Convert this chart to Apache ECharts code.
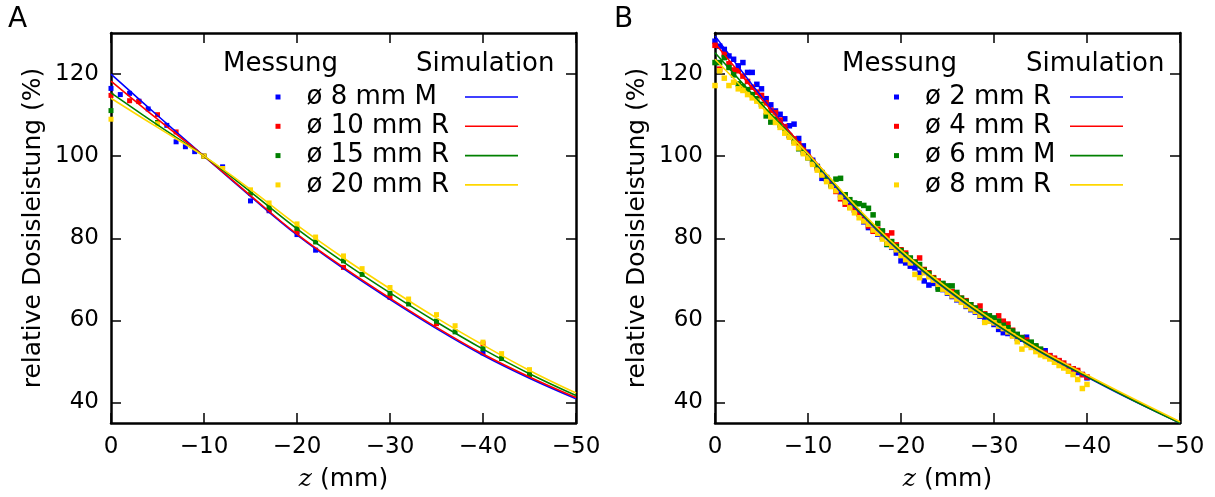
<!DOCTYPE html>
<html><head><meta charset="utf-8">
<script src="https://cdn.jsdelivr.net/npm/echarts@6/dist/echarts.min.js"></script>
<style>html,body{margin:0;padding:0;background:#fff}#c{width:1215px;height:497px}</style>
</head><body><div id="c"></div>
<script>
// ---------- tick labels / texts ----------
const xTicks = [0, -10, -20, -30, -40, -50];
const yTicks = [40, 60, 80, 100, 120];
const xName = 'z';
const xUnit = ' (mm)';
const yName = 'relative Dosisleistung (%)';
const headMess = 'Messung';
const headSim = 'Simulation';
const panelA = 'A';
const panelB = 'B';
const namesA = ['ø 8 mm M', 'ø 10 mm R', 'ø 15 mm R', 'ø 20 mm R'];
const namesB = ['ø 2 mm R', 'ø 4 mm R', 'ø 6 mm M', 'ø 8 mm R'];
const colors = ['#0000ff', '#ff0000', '#008000', '#ffd700'];

// ---------- Panel A measurements ----------
const zA_8M  = [0, -1, -2, -3, -4, -6, -7, -8, -9, -12, -15, -17, -20, -22, -40];
const vA_8M  = [116.5, 115.0, 115.3, 113.4, 111.5, 107.5, 103.5, 102.3, 101.1, 97.4, 89.1, 86.7, 80.9, 77.1, 52.1];
const zA_10R = [0, -2, -3, -5, -7, -10, -17, -20, -25, -30, -35, -40];
const vA_10R = [114.8, 113.5, 113.3, 110.1, 105.9, 100.0, 86.9, 81.7, 72.9, 65.6, 59.2, 54.3];
const zA_15R = [0, -5, -10, -15, -17, -20, -22, -25, -27, -30, -32, -35, -37, -40, -42, -45];
const vA_15R = [111.1, 108.2, 100.0, 91.0, 87.5, 82.4, 79.1, 74.5, 71.2, 66.6, 64.0, 59.8, 57.2, 53.1, 50.7, 46.8];
const zA_20R = [0, -5, -10, -12, -15, -17, -20, -22, -25, -27, -30, -32, -35, -37, -40, -42, -45];
const vA_20R = [109.0, 107.9, 100.0, 97.0, 91.8, 88.6, 83.5, 80.3, 75.7, 72.6, 68.0, 65.2, 61.4, 58.7, 54.7, 51.9, 48.0];

// ---------- Panel A simulations ----------
const zSim = [0, -5, -10, -15, -20, -25, -30, -35, -40, -45, -50];
const sA_8  = [120.0, 109.9, 100.0, 90.2, 80.8, 72.6, 65.1, 58.0, 51.5, 45.9, 40.9];
const sA_10 = [118.3, 109.0, 100.0, 90.4, 81.0, 72.9, 65.4, 58.3, 51.8, 46.2, 41.2];
const sA_15 = [115.4, 107.6, 100.0, 91.3, 82.3, 74.2, 66.7, 59.6, 53.0, 47.0, 41.7];
const sA_20 = [114.1, 107.0, 100.0, 91.9, 83.2, 75.2, 67.7, 60.6, 54.0, 47.8, 42.3];

// ---------- Panel B measurements ----------
const zB = [0, -0.5, -1, -1.5, -2, -2.5, -3, -3.5, -4, -4.5, -5, -5.5, -6, -6.5, -7, -7.5, -8, -8.5, -9, -9.5,
  -10, -10.5, -11, -11.5, -12, -12.5, -13, -13.5, -14, -14.5, -15, -15.5, -16, -16.5, -17, -17.5, -18, -18.5, -19, -19.5,
  -20, -20.5, -21, -21.5, -22, -22.5, -23, -23.5, -24, -24.5, -25, -25.5, -26, -26.5, -27, -27.5, -28, -28.5, -29, -29.5,
  -30, -30.5, -31, -31.5, -32, -32.5, -33, -33.5, -34, -34.5, -35, -35.5, -36, -36.5, -37, -37.5, -38, -38.5, -39, -39.5, -40];
const vB_2R = [128.0, 126.8, 126.0, 124.4, 123.6, 122.0, 122.8, 120.4, 120.4, 117.5, 116.4, 114.0, 112.5, 111.0, 110.2, 109.1, 107.4, 107.8, 104.3, 102.5,
  101.0, 99.0, 97.5, 94.6, 94.8, 93.2, 92.0, 90.6, 89.2, 87.9, 87.0, 86.1, 84.0, 82.6, 82.0, 81.0, 80.2, 78.5, 77.8, 76.4,
  74.5, 74.0, 73.2, 72.8, 71.5, 69.6, 68.6, 69.0, 68.0, 67.5, 66.6, 65.8, 65.0, 64.5, 63.4, 62.6, 62.0, 61.0, 60.2, 59.8,
  59.0, 57.8, 57.0, 56.8, 56.3, 55.6, 55.4, 55.9, 54.0, 53.2, 52.5, 52.6, 51.4, 50.6, 50.0, 49.0, 48.6, 48.2, 47.3, 46.8, 46.0];
const vB_4R = [127.0, 121.2, 124.8, 122.5, 121.0, 120.8, 119.5, 118.2, 116.8, 115.6, 114.8, 113.0, 111.2, 110.6, 108.8, 107.2, 105.0, 104.2, 103.0, 101.4,
  99.8, 98.2, 97.0, 95.8, 94.4, 93.0, 91.4, 89.6, 88.3, 87.6, 86.8, 85.9, 84.6, 83.0, 81.7, 82.2, 81.4, 80.6, 81.3, 78.4,
  77.2, 76.4, 75.0, 74.2, 75.2, 72.4, 71.6, 70.4, 69.6, 68.9, 67.8, 67.0, 66.2, 65.4, 64.8, 63.8, 63.0, 63.5, 61.6, 61.0,
  60.4, 61.1, 59.8, 59.1, 57.6, 56.4, 55.8, 55.2, 54.4, 53.6, 52.8, 52.0, 51.4, 50.8, 50.2, 49.6, 48.8, 48.2, 47.8, 46.8, 46.2];
const vB_6M = [122.8, 122.8, 124.0, 121.6, 119.8, 117.6, 117.0, 116.2, 115.0, 114.0, 112.6, 109.8, 108.3, 109.0, 107.6, 106.4, 105.0, 103.6, 101.8, 100.9,
  99.6, 98.6, 97.4, 96.0, 94.4, 92.8, 94.4, 94.6, 90.6, 89.4, 88.6, 88.4, 88.0, 87.3, 85.7, 83.6, 81.8, 78.5, 79.2, 78.0,
  77.0, 76.0, 75.2, 74.2, 73.6, 72.2, 71.4, 70.2, 67.6, 69.0, 68.4, 68.4, 66.8, 65.4, 64.6, 63.8, 63.0, 62.2, 61.4, 61.1,
  60.6, 59.8, 58.8, 58.2, 57.4, 56.6, 55.8, 54.7, 54.7, 53.8, 53.0];
const vB_8R = [117.2, 120.8, 119.0, 117.2, 118.0, 116.4, 116.0, 115.0, 114.2, 113.4, 112.2, 110.8, 109.6, 108.2, 107.0, 105.6, 104.6, 103.2, 102.0, 100.6,
  99.6, 98.0, 96.6, 95.4, 93.8, 92.6, 91.6, 90.0, 88.8, 87.4, 86.2, 85.0, 84.2, 83.4, 82.0, 81.2, 79.8, 78.8, 78.0, 77.2,
  75.8, 74.8, 74.0, 71.2, 70.4, 71.6, 70.6, 69.8, 68.8, 67.6, 66.8, 66.0, 65.2, 64.4, 63.6, 62.8, 62.2, 61.2, 59.5, 59.8,
  59.4, 58.6, 58.0, 57.2, 56.2, 54.8, 53.0, 54.0, 53.4, 52.4, 51.6, 51.2, 50.6, 49.8, 49.0, 48.4, 47.6, 46.8, 45.6, 43.4, 44.4];

// ---------- Panel B simulations ----------
const sB_2 = [129.3, 114.5, 100.5, 87.5, 76.5, 67.3, 59.3, 52.3, 46.2, 40.4, 35.0];
const sB_4 = [127.5, 113.9, 100.8, 87.9, 76.8, 67.6, 59.6, 52.6, 46.5, 40.7, 35.2];
const sB_6 = [125.2, 112.7, 100.5, 87.8, 76.7, 67.5, 59.4, 52.4, 46.3, 40.5, 35.0];
const sB_8 = [123.6, 112.0, 100.6, 88.2, 77.1, 67.9, 59.8, 52.8, 46.7, 40.9, 35.3];

// ---------- build ----------
const FONT = 'DejaVu Sans';
const pairs = (z, v) => v.map((y, i) => [z[i], y]);
const fmtX = v => (v === 0 ? '0' : '\u2212' + Math.abs(v));

const grids = [
  { left: 111, top: 33, width: 465, height: 394.5 },
  { left: 715, top: 33, width: 465, height: 394.5 }
];

function axesFor(gi) {
  const xs = [
    { type: 'value', gridIndex: gi, position: 'bottom', inverse: true, min: -50, max: 0, interval: 10,
      axisLine: { show: true, onZero: false, lineStyle: { color: '#000', width: 2.5 } },
      axisTick: { inside: true, length: 10, lineStyle: { color: '#000', width: 1.5 } },
      axisLabel: { formatter: fmtX, color: '#000', fontSize: 23, fontFamily: FONT, margin: 13 },
      splitLine: { show: false },
      name: '{i|' + xName + '}' + xUnit, nameLocation: 'middle', nameGap: 44,
      nameTextStyle: { color: '#000', fontSize: 25, fontFamily: FONT,
        rich: { i: { fontFamily: 'DejaVu Serif', fontStyle: 'italic', fontSize: 25, color: '#000' } } } },
    { type: 'value', gridIndex: gi, position: 'top', inverse: true, min: -50, max: 0, interval: 10,
      axisLine: { show: true, onZero: false, lineStyle: { color: '#000', width: 2.5 } },
      axisTick: { inside: true, length: 10, lineStyle: { color: '#000', width: 1.5 } },
      axisLabel: { show: false }, splitLine: { show: false } }
  ];
  const ys = [
    { type: 'value', gridIndex: gi, position: 'left', min: 35, max: 130,
      axisLine: { show: true, onZero: false, lineStyle: { color: '#000', width: 2.5 } },
      axisTick: { inside: true, length: 10, customValues: yTicks, lineStyle: { color: '#000', width: 1.5 } },
      axisLabel: { customValues: yTicks, color: '#000', fontSize: 23, fontFamily: FONT, margin: 12 },
      splitLine: { show: false },
      name: yName, nameLocation: 'middle', nameGap: 65, nameRotate: 90,
      nameTextStyle: { color: '#000', fontSize: 25, fontFamily: FONT } },
    { type: 'value', gridIndex: gi, position: 'right', min: 35, max: 130,
      axisLine: { show: true, onZero: false, lineStyle: { color: '#000', width: 2.5 } },
      axisTick: { inside: true, length: 10, customValues: yTicks, lineStyle: { color: '#000', width: 1.5 } },
      axisLabel: { show: false }, splitLine: { show: false } }
  ];
  return { xs, ys };
}
const aA = axesFor(0), aB = axesFor(1);
const xAxis = [...aA.xs, ...aB.xs];   // 0,1 panel A ; 2,3 panel B
const yAxis = [...aA.ys, ...aB.ys];   // 0,1 panel A ; 2,3 panel B

const measA = [[zA_8M, vA_8M], [zA_10R, vA_10R], [zA_15R, vA_15R], [zA_20R, vA_20R]];
const simA = [sA_8, sA_10, sA_15, sA_20];
const measB = [vB_2R, vB_4R, vB_6M, vB_8R];
const simB = [sB_2, sB_4, sB_6, sB_8];

const series = [];
measA.forEach((m, i) => series.push({
  type: 'scatter', name: namesA[i], xAxisIndex: 0, yAxisIndex: 0, data: pairs(m[0], m[1]),
  symbol: 'rect', symbolSize: 5, itemStyle: { color: colors[i], opacity: 1 }, z: 2, silent: true
}));
simA.forEach((s, i) => series.push({
  type: 'line', name: 'A sim ' + i, xAxisIndex: 0, yAxisIndex: 0, data: pairs(zSim, s), smooth: 0.4,
  showSymbol: false, lineStyle: { color: colors[i], width: 1.6 }, itemStyle: { color: colors[i] }, z: 3, silent: true
}));
measB.forEach((v, i) => series.push({
  type: 'scatter', name: namesB[i], xAxisIndex: 2, yAxisIndex: 2, data: pairs(zB, v),
  symbol: 'rect', symbolSize: 5.5, itemStyle: { color: colors[i], opacity: 1 }, z: 2, silent: true
}));
simB.forEach((s, i) => series.push({
  type: 'line', name: 'B sim ' + i, xAxisIndex: 2, yAxisIndex: 2, data: pairs(zSim, s), smooth: 0.4,
  showSymbol: false, lineStyle: { color: colors[i], width: 1.6 }, itemStyle: { color: colors[i] }, z: 3, silent: true
}));

const legText = { color: '#000', fontSize: 26, fontFamily: FONT, lineHeight: 25 };
function measLegend(names, left) {
  return { data: names.map(n => ({ name: n, icon: 'rect' })), orient: 'vertical', left: left, top: 84,
    itemWidth: 5, itemHeight: 5, itemGap: 3.3, padding: 0, selectedMode: false,
    textStyle: Object.assign({ padding: [0, 0, 0, 21] }, legText) };
}
function simLegend(names, left) {
  return { data: names.map(n => ({ name: n, icon: 'rect' })), orient: 'vertical', left: left, top: 84,
    itemWidth: 53, itemHeight: 1.6, itemGap: 3.3, padding: 0, selectedMode: false,
    formatter: () => ' ', textStyle: legText };
}
const legend = [
  measLegend(namesA, 275.5), simLegend(['A sim 0', 'A sim 1', 'A sim 2', 'A sim 3'], 465),
  measLegend(namesB, 894), simLegend(['B sim 0', 'B sim 1', 'B sim 2', 'B sim 3'], 1070)
];

const tStyle = { color: '#000', fontSize: 26, fontFamily: FONT, fontWeight: 'normal' };
const pStyle = { color: '#000', fontSize: 28, fontFamily: FONT, fontWeight: 'normal' };
const title = [
  { text: panelA, left: 8, top: 6, padding: 0, textStyle: pStyle },
  { text: panelB, left: 614, top: 6, padding: 0, textStyle: pStyle },
  { text: headMess, left: 223, top: 51, padding: 0, textStyle: tStyle },
  { text: headSim, left: 416, top: 51, padding: 0, textStyle: tStyle },
  { text: headMess, left: 842, top: 51, padding: 0, textStyle: tStyle },
  { text: headSim, left: 1026, top: 51, padding: 0, textStyle: tStyle }
];

const chart = echarts.init(document.getElementById('c'), null, { renderer: 'canvas' });
chart.setOption({
  animation: false, backgroundColor: '#fff',
  title, legend, grid: grids, xAxis, yAxis, series
});
</script></body></html>
